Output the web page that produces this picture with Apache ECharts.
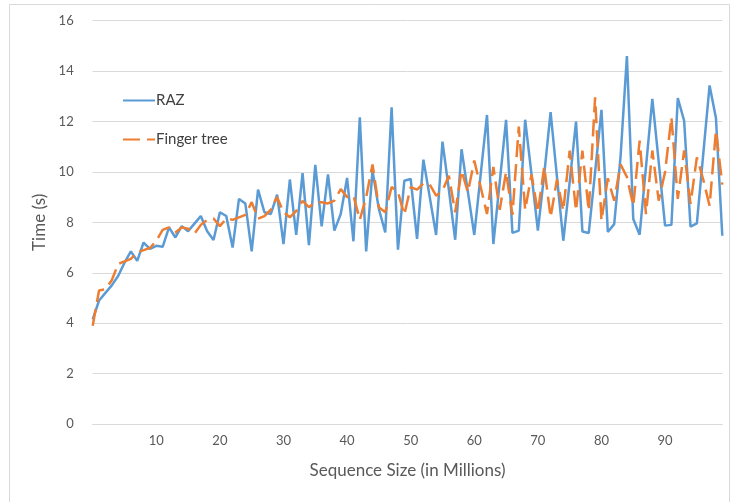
<!DOCTYPE html>
<html><head><meta charset="utf-8">
<script src="https://cdn.jsdelivr.net/npm/echarts@6/dist/echarts.min.js"></script>
<style>html,body{margin:0;padding:0;background:#fff}#c{width:735px;height:502px}</style>
</head><body><div id="c"></div>
<script>
const sizes = Array.from({length: 100}, (_, i) => i);
const raz = [4.15,4.9,5.2,5.5,5.87,6.4,6.85,6.47,7.2,6.95,
7.07,7.03,7.8,7.4,7.85,7.65,7.95,8.25,7.65,7.3,
8.4,8.25,7.0,8.93,8.75,6.85,9.3,8.4,8.33,9.1,
7.14,9.7,7.5,9.95,7.1,10.28,7.84,9.9,7.67,8.33,
9.76,7.25,12.17,6.85,10.05,8.53,7.6,12.56,6.92,9.65,
9.72,7.34,10.49,9.0,7.5,11.2,9.3,7.31,10.9,9.2,
7.5,9.88,12.26,7.14,9.6,12.07,7.58,7.67,12.07,9.9,
7.67,9.9,12.37,9.8,7.27,9.6,12.0,7.64,7.58,10.0,
12.46,7.62,7.93,10.6,14.6,8.13,7.51,10.2,12.9,10.4,
7.87,7.9,12.93,12.03,7.83,7.96,10.7,13.43,12.14,7.47];
const fingerTree = [3.9,5.3,5.35,5.7,6.35,6.45,6.55,6.8,6.9,6.98,
7.27,7.7,7.8,7.6,7.8,7.75,7.55,7.9,8.1,8.15,
7.85,8.15,8.1,8.2,8.3,8.8,8.15,8.25,8.5,9.0,
8.4,8.2,8.45,8.85,8.6,8.8,8.8,8.75,8.86,9.32,
9.0,9.06,8.1,9.0,10.3,8.6,8.4,9.4,9.2,8.3,
9.4,9.3,9.55,9.5,9.06,9.25,9.85,8.4,10.05,9.2,
10.45,9.4,8.33,10.2,8.5,10.0,8.3,11.8,8.5,9.9,
8.4,10.2,8.2,9.7,8.46,10.85,8.46,10.85,8.46,12.96,
8.07,9.75,8.86,10.3,9.8,8.66,11.24,8.33,10.85,8.86,
10.0,12.17,8.93,10.85,8.73,10.58,9.7,8.66,11.64,9.5];
const yTicks = {min: 0, max: 16, step: 2};
const xTicks = {min: 0, max: 99, step: 10};

const FONT = 'Lato, "Open Sans", sans-serif';
const chart = echarts.init(document.getElementById('c'), null, {renderer: 'canvas'});
chart.setOption({
  animation: false,
  backgroundColor: '#fff',
  graphic: [{type: 'rect', shape: {x: 9.5, y: 4.5, width: 720, height: 520},
    style: {fill: 'none', stroke: '#d9d9d9', lineWidth: 1}, silent: true, z: -1}],
  grid: {left: 92.7, right: 12.7, top: 20.7, bottom: 78},
  legend: {
    orient: 'vertical', left: 117, top: 88, itemWidth: 32, itemHeight: 10, itemGap: 24,
    itemStyle: {opacity: 0},
    textStyle: {fontFamily: FONT, fontSize: 15, color: '#404040', padding: [0,0,0,-4]},
    data: ['RAZ', 'Finger tree']
  },
  xAxis: {
    type: 'value', min: xTicks.min, max: xTicks.max, interval: xTicks.step,
    name: 'Sequence Size (in Millions)', nameLocation: 'middle', nameGap: 38,
    nameTextStyle: {fontFamily: FONT, fontSize: 17, color: '#595959'},
    axisLine: {show: true, lineStyle: {color: '#d9d9d9', width: 1}},
    axisTick: {show: false},
    splitLine: {show: false},
    axisLabel: {fontFamily: FONT, fontSize: 13, color: '#595959', margin: 10,
      formatter: v => (v === 0 || v % 10 !== 0 ? '' : String(v))}
  },
  yAxis: {
    type: 'value', min: yTicks.min, max: yTicks.max, interval: yTicks.step,
    name: 'Time (s)', nameLocation: 'middle', nameGap: 44,
    nameTextStyle: {fontFamily: FONT, fontSize: 17, color: '#595959'},
    axisLine: {show: false}, axisTick: {show: false},
    splitLine: {lineStyle: {color: '#d9d9d9', width: 1}},
    axisLabel: {fontFamily: FONT, fontSize: 13, color: '#595959', margin: 19}
  },
  series: [
    {name: 'RAZ', type: 'line', data: sizes.map((x, i) => [x, raz[i]]),
      symbol: 'none', lineStyle: {color: '#5B9BD5', width: 2.5}, itemStyle: {color: '#5B9BD5'}, z: 2},
    {name: 'Finger tree', type: 'line', data: sizes.map((x, i) => [x, fingerTree[i]]),
      symbol: 'none', lineStyle: {color: '#ED7D31', width: 2.5, type: [17, 7]}, itemStyle: {color: '#ED7D31'}, z: 3}
  ]
});
</script></body></html>
